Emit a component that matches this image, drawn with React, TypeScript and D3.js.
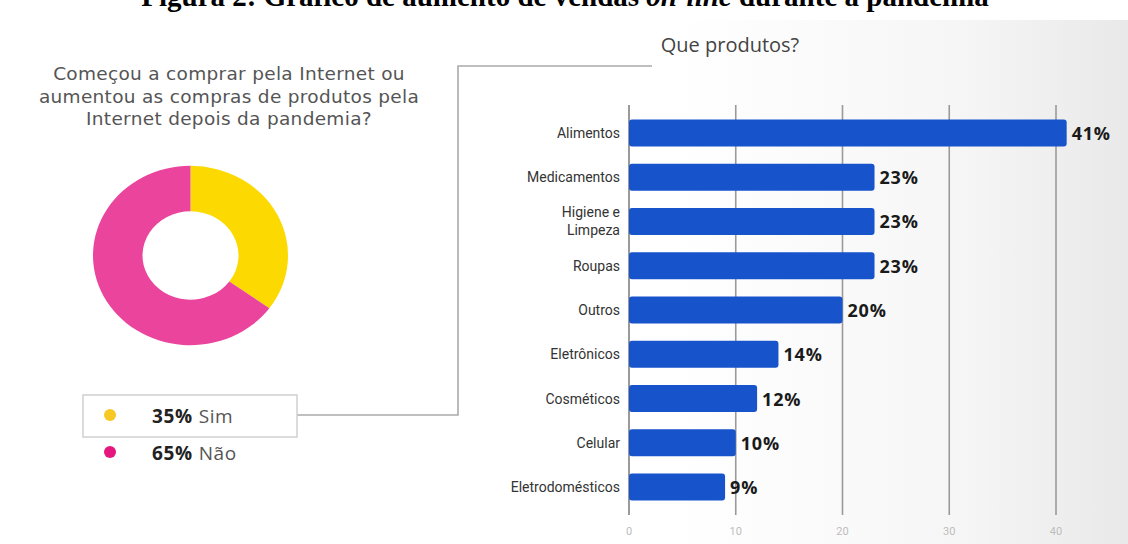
import React from "react";
import * as d3 from "d3";

const categories = [
  "Alimentos",
  "Medicamentos",
  "Higiene e|Limpeza",
  "Roupas",
  "Outros",
  "Eletrônicos",
  "Cosméticos",
  "Celular",
  "Eletrodomésticos",
];
const values = [41, 23, 23, 23, 20, 14, 12, 10, 9];
const xTicks = [0, 10, 20, 30, 40];

const donutLabels = ["Sim", "Não"];
const donutValues = [35, 65];
const donutColors = ["#FCD900", "#EA449D"];
const bulletColors = ["#F7C823", "#E5177F"];

const questionLines = [
  "Começou a comprar pela Internet ou",
  "aumentou as compras de produtos pela",
  "Internet depois da pandemia?",
];

export default function App() {
  const W = 1128;
  const H = 544;

  const x = d3.scaleLinear().domain([0, 40]).range([629, 1056]);
  const y = d3
    .scaleBand<string>()
    .domain(categories)
    .range([111, 509])
    .paddingInner(0.39)
    .paddingOuter(0.19);

  const pie = d3
    .pie<number>()
    .sort(null)
    .value((d) => d)(donutValues);
  const arc = d3.arc<d3.PieArcDatum<number>>().innerRadius(48).outerRadius(97.5);

  const sansQ = "'Open Sans', 'DejaVu Sans', sans-serif";
  const wide = "'DejaVu Sans', 'Open Sans', sans-serif";
  const roboto = "Roboto, 'Noto Sans', sans-serif";

  return (
    <svg
      width={W}
      height={H}
      style={{ position: "absolute", left: 0, top: 0, background: "#fff" }}
    >
      <defs>
        <linearGradient id="bg" x1="0" y1="0" x2="1" y2="0">
          <stop offset="0" stopColor="#ffffff" />
          <stop offset="0.6" stopColor="#ffffff" />
          <stop offset="0.85" stopColor="#f6f6f6" />
          <stop offset="1" stopColor="#e9e9e9" />
        </linearGradient>
      </defs>
      <rect x={0} y={0} width={W} height={H} fill="#fff" />
      <rect x={0} y={20} width={W} height={H - 20} fill="url(#bg)" />

      {/* Cropped document caption */}
      <text
        x={565}
        y={6}
        textAnchor="middle"
        fontFamily="'Liberation Serif', 'Times New Roman', serif"
        fontWeight="bold"
        fontSize={29}
        fill="#000"
      >
        Figura 2: Gráfico de aumento de vendas <tspan fontStyle="italic">on-line</tspan> durante a pandemia
      </text>

      {/* Question */}
      {questionLines.map((l, i) => (
        <text
          key={i}
          x={229}
          y={80 + i * 22.5}
          textAnchor="middle"
          fontFamily={wide}
          fontSize={18.5}
          letterSpacing={0.3}
          fill="#555"
        >
          {l}
        </text>
      ))}

      {/* Donut */}
      <g transform="translate(190.5,255.5) scale(1,0.92)">
        {pie.map((p, i) => (
          <path key={i} d={arc(p) || ""} fill={donutColors[i]} />
        ))}
      </g>

      {/* Connector */}
      <path
        d="M297,415 H458 V66 H652"
        fill="none"
        stroke="#aaa"
        strokeWidth={1.6}
      />

      {/* Legend */}
      <rect x={83} y={395} width={214} height={42} fill="#fff" stroke="#d0d0d0" strokeWidth={1.5} />
      {donutLabels.map((lab, i) => (
        <g key={lab}>
          <circle cx={110} cy={415 + i * 37} r={6} fill={bulletColors[i]} />
          <text
            x={152}
            y={423 + i * 37}
            fontFamily={sansQ}
            fontSize={19}
            letterSpacing={0.6}
            fill="#555"
          >
            <tspan fontWeight="bold" fill="#222">
              {donutValues[i]}%
            </tspan>
            <tspan dx={6}>{lab}</tspan>
          </text>
        </g>
      ))}

      {/* Bar chart title */}
      <text x={730} y={52} textAnchor="middle" fontFamily={sansQ} fontSize={20} fill="#444">
        Que produtos?
      </text>

      {/* Grid */}
      {xTicks.map((t) => (
        <g key={t}>
          <line
            x1={x(t)}
            x2={x(t)}
            y1={105}
            y2={515}
            stroke="#9a9a9a"
            strokeWidth={t === 0 ? 2 : 1.6}
          />
          <text
            x={x(t)}
            y={535}
            textAnchor="middle"
            fontFamily={roboto}
            fontSize={11}
            fill="#bdbdbd"
          >
            {t}
          </text>
        </g>
      ))}

      {/* Bars */}
      {categories.map((c, i) => {
        const yy = y(c) as number;
        const bh = y.bandwidth();
        const lines = c.split("|");
        const cy = yy + bh / 2;
        return (
          <g key={c}>
            <rect
              x={x(0)}
              y={yy}
              width={x(values[i]) - x(0)}
              height={bh}
              rx={3}
              fill="#1753CB"
            />
            {lines.map((ln, j) => (
              <text
                key={j}
                x={620}
                y={cy + 5 + (j - (lines.length - 1) / 2) * 18}
                textAnchor="end"
                fontFamily={roboto}
                fontSize={14}
                fill="#333"
              >
                {ln}
              </text>
            ))}
            <text
              x={x(values[i]) + 5}
              y={cy + 7}
              fontFamily={sansQ}
              fontWeight="bold"
              fontSize={18}
              letterSpacing={0.8}
              fill="#1a1a1a"
            >
              {values[i]}%
            </text>
          </g>
        );
      })}
    </svg>
  );
}
